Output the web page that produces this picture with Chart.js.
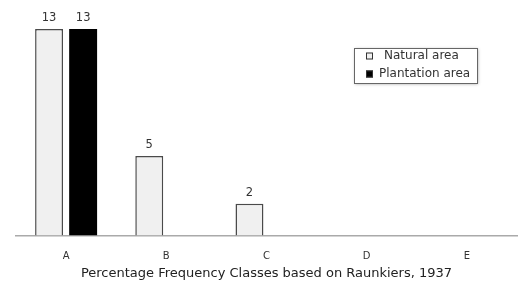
<!DOCTYPE html>
<html>
<head>
<meta charset="utf-8">
<script src="https://cdn.jsdelivr.net/npm/chart.js@4"></script>
<style>
  html, body { margin: 0; padding: 0; background: #fff; }
</style>
</head>
<body>
<canvas id="freqChart" width="520" height="281"></canvas>
<script>
const classLabels = ['A', 'B', 'C', 'D', 'E'];
const naturalValues = [13, 5, 2, 0, 0];
const plantationValues = [13, 0, 0, 0, 0];
const seriesNames = ['Natural area', 'Plantation area'];
const axisTitle = 'Percentage Frequency Classes based on Raunkiers, 1937';

const valueLabels = {
  id: 'valueLabels',
  afterDatasetsDraw(chart) {
    const ctx = chart.ctx;
    ctx.save();
    ctx.font = '11.5px "DejaVu Sans", sans-serif';
    ctx.fillStyle = '#333';
    ctx.textAlign = 'center';
    ctx.textBaseline = 'bottom';
    chart.data.datasets.forEach((ds, i) => {
      chart.getDatasetMeta(i).data.forEach((bar, j) => {
        if (!ds.data[j]) return;
        ctx.fillText(ds.data[j], bar.x, bar.y - 5);
      });
    });
    ctx.restore();
  }
};

// legend box drawn by hand so it can sit inside the plot
const boxLegend = {
  id: 'boxLegend',
  afterDraw(chart) {
    const ctx = chart.ctx;
    const x = 354, y = 48, w = 123, h = 35;
    ctx.save();
    ctx.shadowColor = 'rgba(0,0,0,0.35)';
    ctx.shadowBlur = 3;
    ctx.shadowOffsetX = 1;
    ctx.shadowOffsetY = 1;
    ctx.fillStyle = '#fff';
    ctx.fillRect(x, y, w, h);
    ctx.shadowColor = 'transparent';
    ctx.strokeStyle = '#666';
    ctx.lineWidth = 1;
    ctx.strokeRect(x + 0.5, y + 0.5, w, h);
    ctx.font = '12px "DejaVu Sans", sans-serif';
    ctx.textBaseline = 'middle';
    ctx.textAlign = 'left';
    chart.data.datasets.forEach((ds, i) => {
      const cy = y + 8 + i * 18;
      ctx.fillStyle = ds.backgroundColor;
      ctx.fillRect(x + 12, cy - 3.5, 7, 7);
      ctx.strokeStyle = '#333';
      ctx.strokeRect(x + 12.5, cy - 3, 6, 6);
      ctx.fillStyle = '#333';
      ctx.fillText(ds.label, x + (i === 0 ? 30 : 25), cy);
    });
    ctx.restore();
  }
};

new Chart(document.getElementById('freqChart'), {
  type: 'bar',
  data: {
    labels: classLabels,
    datasets: [
      {
        label: seriesNames[0],
        data: naturalValues,
        backgroundColor: '#f0f0f0',
        borderColor: '#4a4a4a',
        borderWidth: 1.5,
        borderSkipped: 'bottom',
        categoryPercentage: 0.68,
        barPercentage: 0.82,
      },
      {
        label: seriesNames[1],
        data: plantationValues,
        backgroundColor: '#000',
        borderColor: '#000',
        borderWidth: 0,
        categoryPercentage: 0.68,
        barPercentage: 0.82,
      },
    ],
  },
  options: {
    responsive: false,
    animation: false,
    layout: { padding: { left: 16, right: 3, top: 29, bottom: 0 } },
    plugins: {
      legend: { display: false },
      tooltip: { enabled: false },
    },
    scales: {
      x: {
        grid: { display: false, drawTicks: false },
        border: { color: '#aaa', width: 1.5 },
        ticks: { color: '#333', font: { family: 'DejaVu Sans', size: 10 }, padding: 15 },
        title: {
          display: true,
          text: axisTitle,
          color: '#222',
          font: { family: 'DejaVu Sans', size: 13 },
          padding: { top: -12, bottom: 0 },
        },
      },
      y: { display: false, min: 0, max: 13 },
    },
  },
  plugins: [valueLabels, boxLegend],
});
</script>
</body>
</html>
